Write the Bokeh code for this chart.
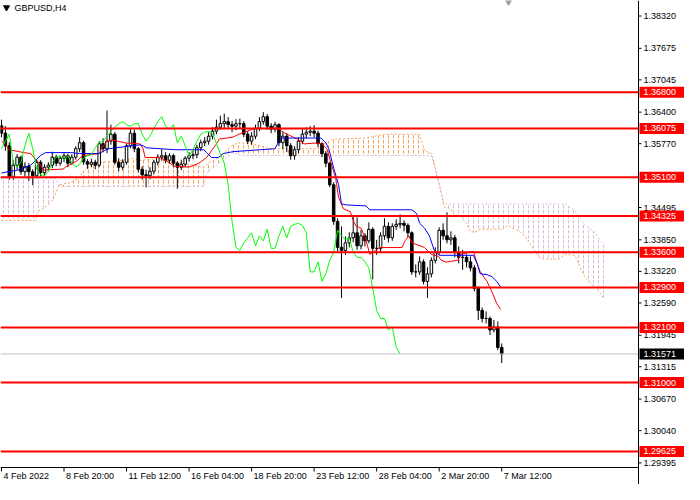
import numpy as np
from bokeh.plotting import figure
from bokeh.core.properties import value
from bokeh.embed import file_html
from bokeh.resources import INLINE

symbol = "GBPUSD,H4"
date_ticks = [0, 16, 32, 48, 64, 80, 96, 112, 128]
date_labels = ["4 Feb 2022", "8 Feb 20:00", "11 Feb 12:00", "16 Feb 04:00", "18 Feb 20:00",
               "23 Feb 12:00", "28 Feb 04:00", "2 Mar 20:00", "7 Mar 12:00"]
price_ticks = [1.38320, 1.37675, 1.37045, 1.36400, 1.35770, 1.34495, 1.33850, 1.33220,
               1.32590, 1.31945, 1.31315, 1.30670, 1.30040, 1.29395]
levels = [1.36800, 1.36075, 1.35100, 1.34325, 1.33600, 1.32900, 1.32100, 1.31000, 1.29625]
bid = 1.31571
chikou_shift = 26

# H4 candles, 4 Feb 2022 00:00 .. 7 Mar 2022 12:00
o = [1.3613, 1.3598, 1.3573, 1.3511, 1.3534, 1.3550, 1.3521, 1.3532, 1.3521, 1.3513,
     1.3540, 1.3519, 1.3530, 1.3534, 1.3550, 1.3538, 1.3548, 1.3553, 1.3538, 1.3550,
     1.3567, 1.3579, 1.3541, 1.3536, 1.3540, 1.3534, 1.3577, 1.3567, 1.3582, 1.3596,
     1.3540, 1.3530, 1.3540, 1.3573, 1.3598, 1.3567, 1.3526, 1.3515, 1.3513, 1.3522,
     1.3540, 1.3550, 1.3553, 1.3544, 1.3553, 1.3538, 1.3530, 1.3536, 1.3548, 1.3553,
     1.3555, 1.3569, 1.3579, 1.3582, 1.3592, 1.3602, 1.3610, 1.3617, 1.3621, 1.3615,
     1.3612, 1.3617, 1.3617, 1.3596, 1.3582, 1.3592, 1.3608, 1.3621, 1.3631, 1.3612,
     1.3606, 1.3615, 1.3579, 1.3592, 1.3573, 1.3553, 1.3565, 1.3582, 1.3596, 1.3600,
     1.3602, 1.3598, 1.3577, 1.3557, 1.3538, 1.3495, 1.3422, 1.3370, 1.3364, 1.3379,
     1.3389, 1.3399, 1.3373, 1.3393, 1.3383, 1.3406, 1.3368, 1.3368, 1.3393, 1.3412,
     1.3389, 1.3412, 1.3416, 1.3418, 1.3414, 1.3399, 1.3321, 1.3321, 1.3341, 1.3302,
     1.3317, 1.3344, 1.3360, 1.3404, 1.3393, 1.3385, 1.3389, 1.3360, 1.3350, 1.3350,
     1.3341, 1.3329, 1.3288, 1.3244, 1.3228, 1.3228, 1.3205, 1.3211, 1.3170]
h = [1.3625, 1.3612, 1.3580, 1.3545, 1.3556, 1.3553, 1.3540, 1.3538, 1.3526, 1.3545,
     1.3544, 1.3536, 1.3540, 1.3561, 1.3555, 1.3553, 1.3560, 1.3557, 1.3556, 1.3572,
     1.3590, 1.3583, 1.3546, 1.3547, 1.3545, 1.3582, 1.3588, 1.3643, 1.3615, 1.3600,
     1.3548, 1.3546, 1.3578, 1.3606, 1.3605, 1.3570, 1.3532, 1.3525, 1.3530, 1.3545,
     1.3556, 1.3566, 1.3560, 1.3558, 1.3557, 1.3542, 1.3545, 1.3552, 1.3560, 1.3565,
     1.3575, 1.3585, 1.3590, 1.3600, 1.3610, 1.3625, 1.3633, 1.3637, 1.3630, 1.3622,
     1.3626, 1.3627, 1.3622, 1.3602, 1.3600, 1.3615, 1.3630, 1.3640, 1.3636, 1.3618,
     1.3621, 1.3618, 1.3600, 1.3598, 1.3578, 1.3572, 1.3590, 1.3606, 1.3610, 1.3612,
     1.3614, 1.3603, 1.3580, 1.3562, 1.3541, 1.3500, 1.3428, 1.3412, 1.3392, 1.3400,
     1.3432, 1.3430, 1.3405, 1.3398, 1.3420, 1.3410, 1.3385, 1.3400, 1.3428, 1.3420,
     1.3418, 1.3426, 1.3436, 1.3424, 1.3418, 1.3402, 1.3336, 1.3352, 1.3346, 1.3330,
     1.3350, 1.3370, 1.3410, 1.3418, 1.3440, 1.3402, 1.3395, 1.3372, 1.3365, 1.3356,
     1.3352, 1.3335, 1.3292, 1.3250, 1.3242, 1.3232, 1.3225, 1.3222, 1.3178]
l = [1.3590, 1.3563, 1.3505, 1.3505, 1.3525, 1.3515, 1.3512, 1.3503, 1.3494, 1.3508,
     1.3512, 1.3514, 1.3522, 1.3528, 1.3532, 1.3533, 1.3540, 1.3530, 1.3535, 1.3545,
     1.3560, 1.3535, 1.3527, 1.3530, 1.3526, 1.3530, 1.3560, 1.3558, 1.3575, 1.3535,
     1.3522, 1.3524, 1.3535, 1.3568, 1.3560, 1.3520, 1.3505, 1.3490, 1.3506, 1.3516,
     1.3534, 1.3543, 1.3538, 1.3537, 1.3530, 1.3487, 1.3524, 1.3530, 1.3541, 1.3546,
     1.3548, 1.3562, 1.3572, 1.3575, 1.3586, 1.3596, 1.3605, 1.3608, 1.3606, 1.3600,
     1.3604, 1.3608, 1.3590, 1.3576, 1.3575, 1.3586, 1.3602, 1.3615, 1.3605, 1.3598,
     1.3600, 1.3572, 1.3566, 1.3560, 1.3545, 1.3545, 1.3558, 1.3576, 1.3588, 1.3592,
     1.3590, 1.3570, 1.3550, 1.3530, 1.3490, 1.3415, 1.3362, 1.3269, 1.3355, 1.3370,
     1.3380, 1.3365, 1.3366, 1.3372, 1.3378, 1.3306, 1.3355, 1.3360, 1.3385, 1.3380,
     1.3383, 1.3405, 1.3408, 1.3402, 1.3390, 1.3315, 1.3310, 1.3315, 1.3296, 1.3269,
     1.3310, 1.3338, 1.3355, 1.3385, 1.3378, 1.3375, 1.3350, 1.3338, 1.3325, 1.3330,
     1.3322, 1.3282, 1.3225, 1.3220, 1.3218, 1.3195, 1.3200, 1.3165, 1.3139]
c = [1.3598, 1.3573, 1.3511, 1.3534, 1.3550, 1.3521, 1.3532, 1.3521, 1.3513, 1.3540,
     1.3519, 1.3530, 1.3534, 1.3550, 1.3538, 1.3548, 1.3553, 1.3538, 1.3550, 1.3567,
     1.3579, 1.3541, 1.3536, 1.3540, 1.3534, 1.3577, 1.3567, 1.3582, 1.3596, 1.3540,
     1.3530, 1.3540, 1.3573, 1.3598, 1.3567, 1.3526, 1.3515, 1.3513, 1.3522, 1.3540,
     1.3550, 1.3553, 1.3544, 1.3553, 1.3538, 1.3530, 1.3536, 1.3548, 1.3553, 1.3555,
     1.3569, 1.3579, 1.3582, 1.3592, 1.3602, 1.3610, 1.3617, 1.3621, 1.3615, 1.3612,
     1.3617, 1.3617, 1.3596, 1.3582, 1.3592, 1.3608, 1.3621, 1.3631, 1.3612, 1.3606,
     1.3615, 1.3579, 1.3592, 1.3573, 1.3553, 1.3565, 1.3582, 1.3596, 1.3600, 1.3602,
     1.3598, 1.3577, 1.3557, 1.3538, 1.3495, 1.3422, 1.3370, 1.3364, 1.3379, 1.3389,
     1.3399, 1.3373, 1.3393, 1.3383, 1.3406, 1.3368, 1.3368, 1.3393, 1.3412, 1.3389,
     1.3412, 1.3416, 1.3418, 1.3414, 1.3399, 1.3321, 1.3321, 1.3341, 1.3302, 1.3317,
     1.3344, 1.3360, 1.3404, 1.3393, 1.3385, 1.3389, 1.3360, 1.3350, 1.3350, 1.3341,
     1.3329, 1.3288, 1.3244, 1.3228, 1.3228, 1.3205, 1.3211, 1.3170, 1.31571]

# ichimoku lines (bar index, price)
tenkan_x = [0, 1.25, 2, 5.75, 7.5, 8.25, 9.5, 10.75, 15.75, 16.75, 18.25, 19.5, 20.75, 25,
            25.75, 27, 28.25, 31.75, 35.5, 36.25, 36.75, 40.75, 42, 44.25, 48, 50.5, 52.5,
            55, 55.75, 59.25, 60.75, 64.25, 65, 70.75, 72.5, 75.75, 77.5, 80.75, 82, 83.25,
            84.25, 85.5, 86.25, 87.5, 89.25, 90, 90.75, 92, 93.25, 94.25, 95.75, 96.75,
            102.5, 103.25, 104.25, 105, 108.25, 110, 111.75, 112.5, 113.75, 116.75, 117.5,
            120.75, 121.75, 122.5, 124.25, 125.75, 126.75, 127.75]
tenkan_y = [1.35824, 1.35728, 1.35650, 1.35592, 1.35573, 1.35495, 1.35398, 1.35244,
            1.35263, 1.35321, 1.35379, 1.35437, 1.35534, 1.35573, 1.35689, 1.35824,
            1.35844, 1.35786, 1.35766, 1.35669, 1.35495, 1.35495, 1.35437, 1.35321,
            1.35302, 1.35379, 1.35495, 1.35766, 1.35863, 1.35902, 1.35960, 1.36056,
            1.36076, 1.36076, 1.35979, 1.35863, 1.35766, 1.35786, 1.35766, 1.35669,
            1.35398, 1.35089, 1.34702, 1.34470, 1.34412, 1.34238, 1.34121, 1.34083,
            1.33850, 1.33560, 1.33638, 1.33696, 1.33696, 1.33831, 1.33928, 1.33793,
            1.33696, 1.33560, 1.33522, 1.33444, 1.33406, 1.33444, 1.33560, 1.33618,
            1.33367, 1.33212, 1.33018, 1.32767, 1.32573, 1.32457]
kijun_x = [0, 4.25, 7.5, 8.75, 10, 11.25, 18, 20, 25, 26.75, 27.5, 33.25, 35.5, 36.25, 37,
           44.25, 51.75, 52.5, 53.75, 55.5, 56.75, 59.25, 66.25, 70, 70.75, 71.75, 81.75,
           83, 83.75, 85, 86.25, 87, 88.25, 93.25, 94.25, 105, 106.25, 107, 108.25, 109.5,
           110.75, 112, 120.75, 121.75, 122.5, 124.25, 125.5, 126.75, 127.75]
kijun_y = [1.35186, 1.35244, 1.35341, 1.35437, 1.35534, 1.35592, 1.35592, 1.35573,
           1.35573, 1.35650, 1.35669, 1.35728, 1.35747, 1.35728, 1.35689, 1.35650,
           1.35650, 1.35592, 1.35495, 1.35495, 1.35573, 1.35611, 1.35650, 1.35669,
           1.35786, 1.35883, 1.35883, 1.35786, 1.35669, 1.35282, 1.34953, 1.34567,
           1.34547, 1.34528, 1.34450, 1.34450, 1.34373, 1.34180, 1.34083, 1.33928,
           1.33638, 1.33541, 1.33541, 1.33367, 1.33173, 1.33154, 1.33115, 1.33018,
           1.32902]
span_a_x = [0, 8.75, 9.25, 11.75, 13.25, 14.75, 17.5, 20, 20.75, 22.5, 25, 30.75, 33.75,
            35.75, 40, 44.25, 49.25, 51.75, 53.25, 55.75, 57.5, 59.25, 60.75, 64.25, 66.25,
            68.75, 80.75, 81.75, 83, 85, 93.25, 96.75, 98.75, 107, 107.5, 108.25, 110,
            110.75, 112, 113.25, 115, 115.75, 117.5, 119.25, 120, 121.25, 122.5, 128.25,
            129.5, 130.75, 132.5, 134.25, 136.25, 137.5, 138.75, 142.5, 144.25, 146.75, 148,
            149.25, 150.75, 152.5, 154.25]
span_a_y = [1.34237, 1.34237, 1.34412, 1.34528, 1.34663, 1.34950, 1.34992, 1.35089,
            1.35205, 1.35341, 1.35398, 1.35437, 1.35476, 1.35437, 1.35476, 1.35398,
            1.35341, 1.35302, 1.35398, 1.35495, 1.35631, 1.35747, 1.35786, 1.35766,
            1.35728, 1.35669, 1.35669, 1.35728, 1.35786, 1.35863, 1.35883, 1.35940,
            1.35960, 1.35960, 1.35824, 1.35631, 1.35573, 1.35379, 1.34970, 1.34508,
            1.34470, 1.34373, 1.34315, 1.34141, 1.34005, 1.34005, 1.34063, 1.34063,
            1.34141, 1.34083, 1.34025, 1.33889, 1.33657, 1.33502, 1.33464, 1.33464,
            1.33560, 1.33541, 1.33309, 1.33115, 1.32980, 1.32863, 1.32670]
span_b_x = [0, 13.75, 14.75, 15, 51.75, 52.5, 55, 56.75, 59.25, 61.25, 110, 112, 113.25,
            144.25, 146.75, 148, 149.25, 150.5, 152, 153, 154.25]
span_b_y = [1.35070, 1.35070, 1.34950, 1.34915, 1.34915, 1.35186, 1.35341, 1.35437,
            1.35592, 1.35534, 1.35534, 1.34970, 1.34567, 1.34567, 1.34431, 1.34276,
            1.34141, 1.34083, 1.33986, 1.33850, 1.33753]

# layout: the frame covers the whole canvas, the price/time scales are drawn in it
W, H = 684, 484
chart_w, chart_h = 638, 467
x_lo, x_hi = -0.25, 163.0          # bars visible in the chart window
y_lo, y_hi = 1.29303, 1.38630      # prices visible in the chart window
bpx = (x_hi - x_lo) / chart_w      # bars per pixel
ppx = (y_hi - y_lo) / chart_h      # price per pixel
x_end = x_lo + W * bpx
y_bot = y_lo - (H - chart_h) * ppx
font = "Liberation Sans"
fs = "9px"

p = figure(width=W, height=H, x_range=(x_lo, x_end), y_range=(y_bot, y_hi),
           output_backend="svg", toolbar_location=None, min_border=0)
p.axis.visible = False
p.grid.visible = False
p.outline_line_color = None

# kumo, split where span A and span B cross
ia1, ib1 = span_a_x.index(14.75), span_b_x.index(14.75)
ia2, ib2 = span_a_x.index(112), span_b_x.index(112)
clouds = [
    (span_a_x[:ia1 + 1] + span_b_x[:ib1 + 1][::-1], span_a_y[:ia1 + 1] + span_b_y[:ib1 + 1][::-1], "thistle"),
    (span_a_x[ia1:ia2 + 1] + span_b_x[ib1:ib2 + 1][::-1], span_a_y[ia1:ia2 + 1] + span_b_y[ib1:ib2 + 1][::-1], "sandybrown"),
    (span_a_x[ia2:] + span_b_x[ib2:][::-1], span_a_y[ia2:] + span_b_y[ib2:][::-1], "thistle"),
]
for cx, cy, col in clouds:
    p.patch(cx, cy, fill_color=None, line_color=None, hatch_pattern=":",
            hatch_color=col, hatch_scale=5, hatch_weight=1)
p.line(span_a_x, span_a_y, line_color="sandybrown", line_dash="2 2", line_width=1)
p.line(span_b_x, span_b_y, line_color="thistle", line_dash="2 2", line_width=1)

# candles
idx = np.arange(len(c))
oo, cc = np.array(o), np.array(c)
up = cc >= oo
p.segment(idx, h, idx, l, line_color="black", line_width=1)
p.vbar(idx[up], 0.65, np.maximum(oo, cc)[up], np.minimum(oo, cc)[up],
       fill_color="white", line_color="black", line_width=1)
p.vbar(idx[~up], 0.65, np.maximum(oo, cc)[~up], np.minimum(oo, cc)[~up],
       fill_color="black", line_color="black", line_width=1)

# tenkan, kijun, chikou
p.line(tenkan_x, tenkan_y, line_color="red", line_width=1)
p.line(kijun_x, kijun_y, line_color="blue", line_width=1)
p.line(idx[:-chikou_shift], c[chikou_shift:], line_color="lime", line_width=1)

# chart shift marker
p.scatter([len(c) + 0.75], [y_hi], marker="inverted_triangle", size=10,
          color="#a0a0a0", line_color=None)

# horizontal levels and bid line
n = len(levels)
p.segment([x_lo] * n, levels, [x_hi] * n, levels, line_color="red", line_width=2)
p.segment([x_lo], [bid], [x_hi], [bid], line_color="#c0c0c0", line_width=1)

# price scale
p.segment([x_hi, x_lo], [y_bot, y_lo], [x_hi, x_hi], [y_hi, y_lo], line_color="black", line_width=1)
m = len(price_ticks)
p.segment([x_hi] * m, price_ticks, [x_hi + 3 * bpx] * m, price_ticks, line_color="black")
p.text([x_hi + 5 * bpx] * m, price_ticks, text=["%.5f" % t for t in price_ticks],
       text_font=value(font), text_font_size=fs, text_baseline="middle", text_color="black")

# level boxes drawn over the scale
tags = levels + [bid]
p.quad(left=x_hi + 1 * bpx, right=x_end, top=[t + 5.5 * ppx for t in tags],
       bottom=[t - 5.5 * ppx for t in tags], fill_color=["red"] * n + ["black"], line_color=None)
p.text([x_hi + 5 * bpx] * len(tags), tags, text=["%.5f" % t for t in tags],
       text_font=value(font), text_font_size=fs, text_baseline="middle", text_color="white")

# time scale
k = len(date_ticks)
p.segment(date_ticks, [y_lo] * k, date_ticks, [y_lo - 4 * ppx] * k, line_color="black")
p.text([t + 2 * bpx for t in date_ticks], [y_lo - 3 * ppx] * k, text=date_labels,
       text_font=value(font), text_font_size=fs, text_baseline="top", text_color="black")

# title
p.scatter([x_lo + 6 * bpx], [y_hi - 7 * ppx], marker="inverted_triangle", size=6, color="black")
p.text([x_lo + 14 * bpx], [y_hi - 2 * ppx], text=[symbol], text_font=value(font),
       text_font_size=fs, text_baseline="top", text_color="black")

open("out.html", "w").write(file_html(p, INLINE))
